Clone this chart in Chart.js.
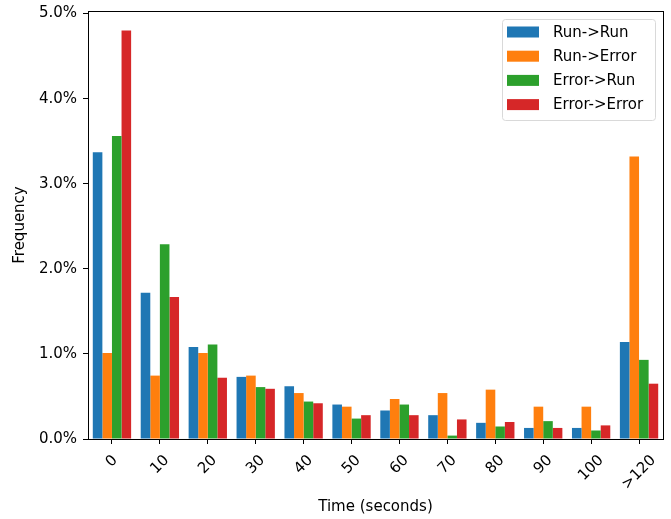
<!DOCTYPE html>
<html>
<head>
<meta charset="utf-8">
<script src="https://cdn.jsdelivr.net/npm/chart.js@4"></script>
<style>
  body { margin: 0; background: #fff; }
  #wrap { width: 671px; height: 519px; }
</style>
</head>
<body>
<div id="wrap"><canvas id="chart" width="671" height="519"></canvas></div>
<script>
// values, in percent
const categories = ["0", "10", "20", "30", "40", "50", "60", "70", "80", "90", "100", ">120"];
const runRun     = [3.37, 1.72, 1.08, 0.73, 0.62, 0.405, 0.335, 0.28, 0.19, 0.13, 0.13, 1.14];
const runError   = [1.01, 0.745, 1.01, 0.745, 0.54, 0.38, 0.47, 0.54, 0.58, 0.38, 0.38, 3.32];
const errorRun   = [3.56, 2.29, 1.11, 0.61, 0.44, 0.24, 0.405, 0.04, 0.147, 0.21, 0.10, 0.93];
const errorError = [4.80, 1.67, 0.72, 0.59, 0.42, 0.28, 0.28, 0.23, 0.20, 0.13, 0.16, 0.65];
const seriesNames = ["Run->Run", "Run->Error", "Error->Run", "Error->Error"];
const colors = ["#1f77b4", "#ff7f0e", "#2ca02c", "#d62728"];
const yTicks = [0, 1, 2, 3, 4, 5];

const FONT = "15px 'DejaVu Sans'";

const extras = {
  id: "extras",
  afterDraw(chart) {
    const ctx = chart.ctx;
    const area = chart.chartArea;
    const xs = chart.scales.x;
    ctx.save();

    // frame (all four spines)
    ctx.strokeStyle = "#000";
    ctx.lineWidth = 1;
    ctx.strokeRect(Math.round(area.left) + 0.5, Math.round(area.top) + 0.5,
      Math.round(area.right - area.left), Math.round(area.bottom - area.top));

    // rotated x tick labels, centred on the tick
    ctx.font = FONT;
    ctx.fillStyle = "#000";
    ctx.textAlign = "center";
    ctx.textBaseline = "middle";
    categories.forEach((lab, i) => {
      const x = xs.getPixelForValue(i);
      const w = ctx.measureText(lab).width;
      const bh = (w + 14) * Math.SQRT1_2;
      ctx.save();
      ctx.translate(x, area.bottom + 14 + bh / 2);
      ctx.rotate(-Math.PI / 4);
      ctx.fillText(lab, 0, 0);
      ctx.restore();
    });

    // axis titles
    ctx.fillText("Time (seconds)", (area.left + area.right) / 2, 507);
    ctx.save();
    ctx.translate(20, (area.top + area.bottom) / 2);
    ctx.rotate(-Math.PI / 2);
    ctx.fillText("Frequency", 0, 0);
    ctx.restore();

    // legend inside the top right corner
    const bx = 502, by = 19, bw = 153, bh = 101;
    ctx.beginPath();
    ctx.roundRect(bx + 0.5, by + 0.5, bw, bh, 3);
    ctx.fillStyle = "rgba(255,255,255,0.8)";
    ctx.fill();
    ctx.strokeStyle = "#d9d9d9";
    ctx.stroke();
    ctx.textAlign = "left";
    chart.data.datasets.forEach((ds, i) => {
      const cy = 32 + i * 24.2;
      ctx.fillStyle = ds.backgroundColor;
      ctx.fillRect(507, cy - 5.5, 32, 11);
      ctx.fillStyle = "#000";
      ctx.fillText(ds.label, 553, cy + 1);
    });
    ctx.restore();
  }
};

const seriesData = [runRun, runError, errorRun, errorError];

new Chart(document.getElementById("chart"), {
  type: "bar",
  data: {
    labels: categories,
    datasets: seriesData.map((d, i) => ({
      label: seriesNames[i],
      data: d,
      backgroundColor: colors[i],
      borderWidth: 0,
      categoryPercentage: 0.8,
      barPercentage: 1.0
    }))
  },
  options: {
    responsive: false,
    animation: false,
    layout: { padding: { top: 11, right: 8, left: 0, bottom: 0 } },
    plugins: { legend: { display: false }, tooltip: { enabled: false } },
    scales: {
      x: {
        type: "category",
        offset: true,
        grid: { display: true, drawOnChartArea: false, drawTicks: true, tickLength: 5, color: "#000", offset: false },
        border: { display: true, color: "#000" },
        ticks: { display: false },
        afterFit(scale) { scale.height = 80; scale.paddingLeft = 0; scale.paddingRight = 0; }
      },
      y: {
        min: 0,
        max: 5.03,
        afterBuildTicks(scale) { scale.ticks = yTicks.map(v => ({ value: v })); },
        grid: { display: true, drawOnChartArea: false, drawTicks: true, tickLength: 5, color: "#000" },
        border: { display: true, color: "#000" },
        ticks: {
          padding: 6,
          color: "#000",
          font: { family: "DejaVu Sans", size: 15 },
          callback: v => v.toFixed(1) + "%"
        },
        afterFit(scale) { scale.width = 88; scale.paddingTop = 0; scale.paddingBottom = 0; }
      }
    }
  },
  plugins: [extras]
});
</script>
</body>
</html>
